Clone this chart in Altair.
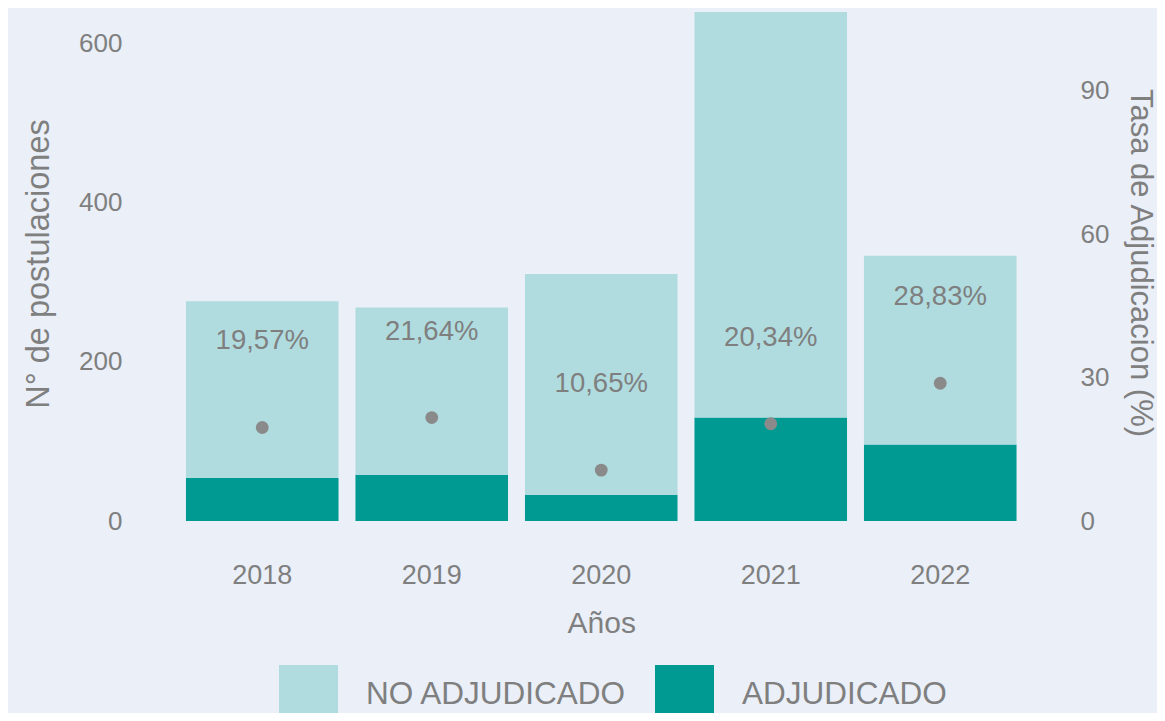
import altair as alt
import pandas as pd

years = ["2018", "2019", "2020", "2021", "2022"]
adjudicado = [54, 58, 33, 130, 96]
no_adjudicado = [222, 210, 277, 509, 237]
tasa = [19.57, 21.64, 10.65, 20.34, 28.83]
tasa_label = ["19,57%", "21,64%", "10,65%", "20,34%", "28,83%"]
categorias = ["NO ADJUDICADO", "ADJUDICADO"]
colores = ["#b0dcdf", "#009a93"]

rows = []
for i, y in enumerate(years):
    rows.append({"year": y, "cat": "ADJUDICADO", "value": adjudicado[i], "ord": 0})
    rows.append({"year": y, "cat": "NO ADJUDICADO", "value": no_adjudicado[i], "ord": 1})
bars_df = pd.DataFrame(rows)
rate_df = pd.DataFrame({"year": years, "tasa": tasa, "label": tasa_label})

FONT = "Liberation Sans"
GRAY = "#7f7f7f"
W, H = 847.5, 513
YMAX = 644

x_enc = alt.X(
    "year:N",
    scale=alt.Scale(paddingInner=0.1, paddingOuter=0.05),
    axis=alt.Axis(
        title="Años", labelAngle=0, domain=False, ticks=False, tickSize=0,
        labelFontSize=27, labelColor=GRAY, labelFont=FONT,
        labelBaseline="alphabetic", labelPadding=62,
        titleFontSize=30, titleColor=GRAY, titleFont=FONT, titleFontWeight="normal",
        titleBaseline="alphabetic", titleY=111, titleX=W / 2,
    ),
)

bars = alt.Chart(bars_df).mark_bar(stroke=None).encode(
    x=x_enc,
    y=alt.Y(
        "value:Q", stack="zero",
        scale=alt.Scale(domain=[0, YMAX], nice=False),
        axis=alt.Axis(
            orient="left", values=[0, 200, 400, 600], grid=False, domain=False,
            ticks=False, tickSize=0, labelPadding=55.5, labelFontSize=26,
            labelColor=GRAY, labelFont=FONT,
            title="N° de postulaciones", titleFontSize=32.5, titleColor=GRAY,
            titleFont=FONT, titleFontWeight="normal", titleAngle=-90,
            titleX=-139.5, titleY=255.5, titleAlign="center", titleBaseline="middle",
        ),
    ),
    color=alt.Color(
        "cat:N",
        scale=alt.Scale(domain=categorias, range=colores),
        legend=alt.Legend(
            title=None, orient="none", legendX=101.5, legendY=657,
            direction="horizontal", symbolType="square", symbolSize=3481,
            symbolStrokeWidth=0, symbolOpacity=1, labelFontSize=31.5,
            labelColor=GRAY, labelFont=FONT, labelOffset=28, columnPadding=28,
            labelLimit=0, padding=0,
        ),
    ),
    order=alt.Order("ord:Q", sort="ascending"),
)

rate_scale = alt.Scale(domain=[0, YMAX / 6], nice=False)

points = alt.Chart(rate_df).mark_circle(size=165, color="#8a8a8a", opacity=1).encode(
    x=x_enc,
    y=alt.Y(
        "tasa:Q", scale=rate_scale,
        axis=alt.Axis(
            orient="right", values=[0, 30, 60, 90], grid=False, domain=False,
            ticks=False, tickSize=0, labelPadding=55, labelFontSize=26,
            labelColor=GRAY, labelFont=FONT,
            title="Tasa de Adjudicacion (%)", titleFontSize=31, titleColor=GRAY,
            titleFont=FONT, titleFontWeight="normal", titleAngle=90,
            titleX=114, titleY=254.5, titleAlign="center", titleBaseline="middle",
        ),
    ),
)

texts = alt.Chart(rate_df).mark_text(
    dy=-86, fontSize=27.5, color=GRAY, font=FONT, baseline="middle"
).encode(
    x=x_enc,
    y=alt.Y("tasa:Q", scale=rate_scale, axis=None),
    text="label:N",
)

chart = (
    alt.layer(bars, points, texts)
    .resolve_scale(y="independent")
    .properties(
        width=W, height=H,
        autosize=alt.AutoSizeParams(type="none"),
        padding={"left": 169.5, "top": 0, "right": 132, "bottom": 192},
        background="#eaeff8",
    )
    .configure_view(stroke=None)
)

chart.save("out.html", embed_options={"renderer": "svg", "actions": False})
